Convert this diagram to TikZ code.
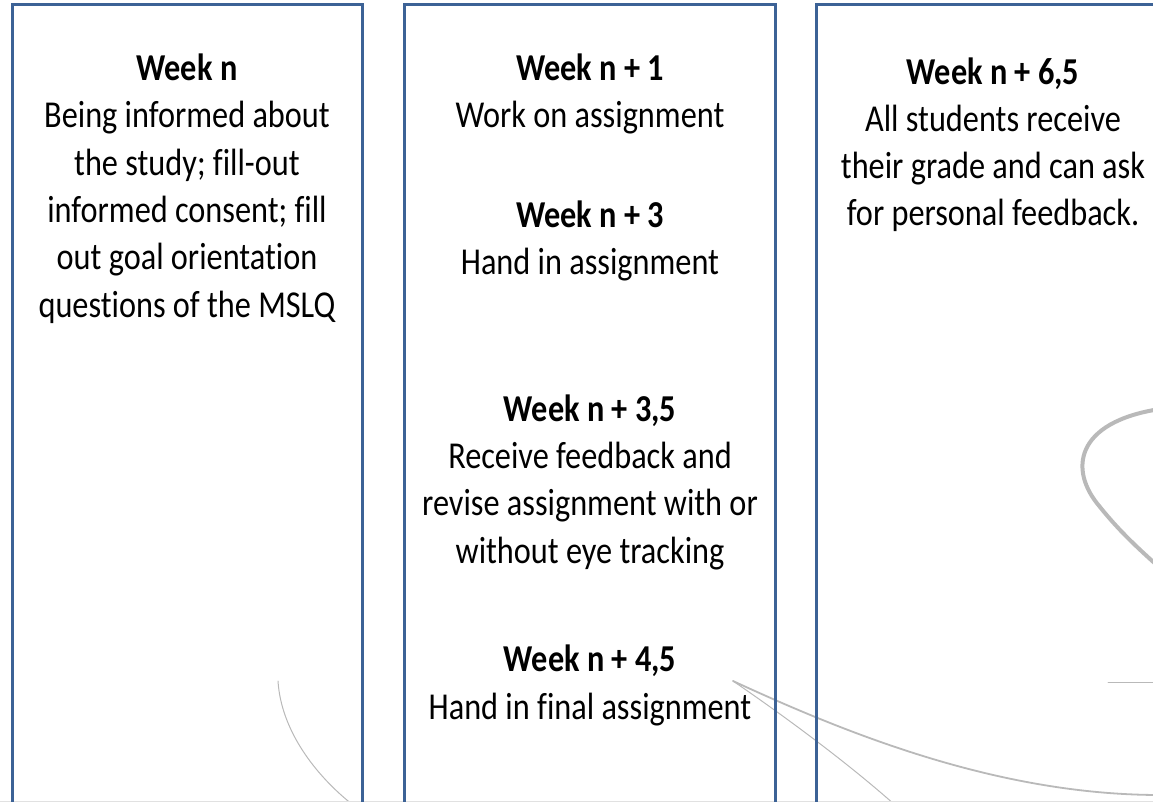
\documentclass[tikz,border=0pt]{standalone}
\usepackage{fontspec}
\setmainfont{Carlito}[FakeStretch=0.85, Ligatures={NoCommon, NoContextual}, RawFeature={-liga;-clig;-dlig}]
\usetikzlibrary{positioning}
\definecolor{panelblue}{RGB}{60, 98, 150}
\definecolor{swoosh}{RGB}{185, 185, 185}
\definecolor{edgegray}{RGB}{225, 225, 225}

\begin{document}
\begin{tikzpicture}[
    x=1pt, y=-1pt,
    panel/.style={draw=panelblue, line width=3pt},
    weektext/.style={font=\fontsize{38}{47.3}\selectfont, align=center, anchor=base, inner sep=0pt},
    swooshline/.style={draw=swoosh, line width=1.5pt, line cap=round}
]
    \useasboundingbox (0, 0) rectangle (1153, 802);
    \clip (0, 0) rectangle (1153, 802);

    % =========================================================================
    % BACKGROUND SWOOSHES
    % =========================================================================
    \coordinate (fork) at (733, 681);
    \draw[swooshline, line width=1pt] (278, 681) .. controls (281, 730) and (315, 775) .. (353, 805);
    \draw[swooshline, line width=1.8pt] (fork) .. controls (850, 735) and (1000, 795) .. (1160, 795);
    \draw[swooshline, line width=1pt] (fork) .. controls (790, 720) and (850, 765) .. (895, 805);
    \draw[swooshline, line width=1pt] (1108, 682) -- (1160, 682);
    \draw[swooshline, line width=4pt] (1160, 409) .. controls (1075, 422) and (1068, 470) .. (1100, 507)
        .. controls (1120, 532) and (1140, 550) .. (1160, 568);
    \draw[edgegray, line width=1pt] (0, 801.5) -- (1153, 801.5);

    % =========================================================================
    % PANELS
    % =========================================================================
    \draw[panel] (12, 5) rectangle (362, 830);
    \draw[panel] (404, 5) rectangle (775, 830);
    \draw[panel] (816, 5) rectangle (1170, 830);

    % --- LEFT PANEL (anchored at the baseline of the last line) ---
    \node[weektext] (wk0) at (187, 317) {\textbf{Week n}\\Being informed about\\the study; fill-out\\informed consent; fill\\out goal orientation\\questions of the MSLQ};

    % --- MIDDLE PANEL ---
    \node[weektext] (wk1) at (590, 128) {\textbf{Week n + 1}\\Work on assignment};
    \node[weektext] (wk3) at (590, 275) {\textbf{Week n + 3}\\Hand in assignment};
    \node[weektext] (wk35) at (590, 563) {\textbf{Week n + 3,5}\\Receive feedback and\\revise assignment with or\\without eye tracking};
    \node[weektext] (wk45) at (590, 719) {\textbf{Week n + 4,5}\\Hand in final assignment};

    % --- RIGHT PANEL ---
    \node[weektext] (wk65) at (993, 226) {\textbf{Week n + 6,5}\\All students receive\\their grade and can ask\\for personal feedback.};

\end{tikzpicture}
\end{document}
